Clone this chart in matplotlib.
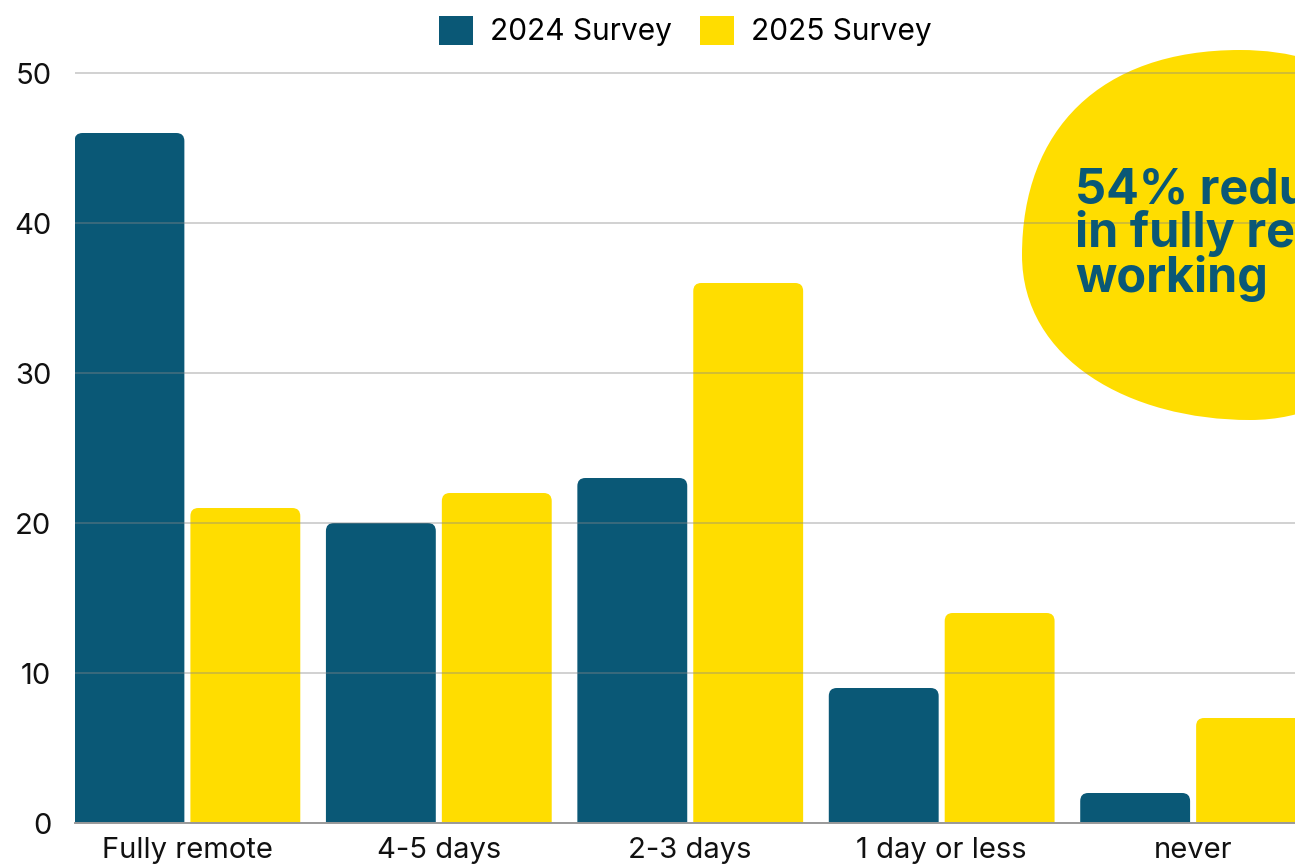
import numpy as np
import matplotlib.pyplot as plt
from matplotlib.patches import FancyBboxPatch, PathPatch
from matplotlib.path import Path

plt.rcParams['font.family'] = ['Inter', 'DejaVu Sans']

categories = ['Fully remote', '4-5 days', '2-3 days', '1 day or less', 'never']
survey_2024 = [46, 20, 23, 9, 2]
survey_2025 = [21, 22, 36, 14, 7]
series_names = ['2024 Survey', '2025 Survey']
y_ticks = [0, 10, 20, 30, 40, 50]
callout = '54% reduction\nin fully remote\nworking'

blue = '#0a5876'
yellow = '#ffdd00'

W, H = 1295, 866
fig = plt.figure(figsize=(W / 100, H / 100), dpi=100)
ax = fig.add_axes([75 / W, 43 / H, 1230.5 / W, 757.5 / H])

x = np.arange(len(categories))
bar_w = 0.437
gap = 0.024
ax.set_xlim(-0.447, len(categories) - 1 + 0.447)
ax.set_ylim(0, 50.5)

# pixels per data unit, used to keep the corner radius round
px_x = 1230.5 / (ax.get_xlim()[1] - ax.get_xlim()[0])
px_y = 757.5 / 50.5
radius_px = 8


def rounded_bar(xc, height, color):
    # start a little below zero so only the top corners show
    bottom = -1.0
    p = FancyBboxPatch((xc - bar_w / 2, bottom), bar_w, height - bottom,
                       boxstyle='round,pad=0,rounding_size=%f' % (radius_px / px_x),
                       mutation_aspect=px_x / px_y,
                       fc=color, ec='none', zorder=2)
    ax.add_patch(p)


for i in range(len(categories)):
    rounded_bar(x[i] - (bar_w + gap) / 2, survey_2024[i], blue)
    rounded_bar(x[i] + (bar_w + gap) / 2, survey_2025[i], yellow)

# yellow blob behind the callout text (figure pixel coords, y down)
pts = [(1240, 50),
       (1100, 50), (1022, 130), (1022, 255),
       (1022, 360), (1130, 420), (1250, 420),
       (1360, 420), (1420, 330), (1420, 240),
       (1420, 100), (1340, 50), (1240, 50)]
verts = [(px / W, 1 - py / H) for px, py in pts]
codes = [Path.MOVETO] + [Path.CURVE4] * 12
blob = PathPatch(Path(verts, codes), transform=fig.transFigure,
                 fc=yellow, ec='none', zorder=1, clip_on=False)
ax.add_patch(blob)

ax.text(1075 / W, 1 - 167 / H, callout, transform=fig.transFigure,
        ha='left', va='top', fontsize=35, fontweight='bold', color=blue,
        linespacing=0.93, zorder=3)

ax.set_yticks(y_ticks)
ax.set_xticks(x)
ax.set_xticklabels(categories)
ax.tick_params(axis='both', length=0, labelsize=21, colors='#111111')
ax.tick_params(axis='y', pad=17)
ax.tick_params(axis='x', pad=10)
ax.grid(axis='y', color='#888888', alpha=0.38, linewidth=1.4, zorder=1.5)
ax.set_axisbelow(False)
for s in ['top', 'right', 'left']:
    ax.spines[s].set_visible(False)
ax.spines['bottom'].set_color('#999999')
ax.spines['bottom'].set_linewidth(1.4)
ax.spines['bottom'].set_zorder(4)

handles = [plt.Rectangle((0, 0), 1, 1, fc=blue), plt.Rectangle((0, 0), 1, 1, fc=yellow)]
fig.legend(handles, series_names, loc='center', bbox_to_anchor=(0.529, 1 - 31 / H),
           ncol=2, frameon=False, fontsize=21.5, handlelength=1.15, handleheight=1.15,
           handletextpad=0.55, columnspacing=0.95)

fig.savefig('out.png', dpi=100)
